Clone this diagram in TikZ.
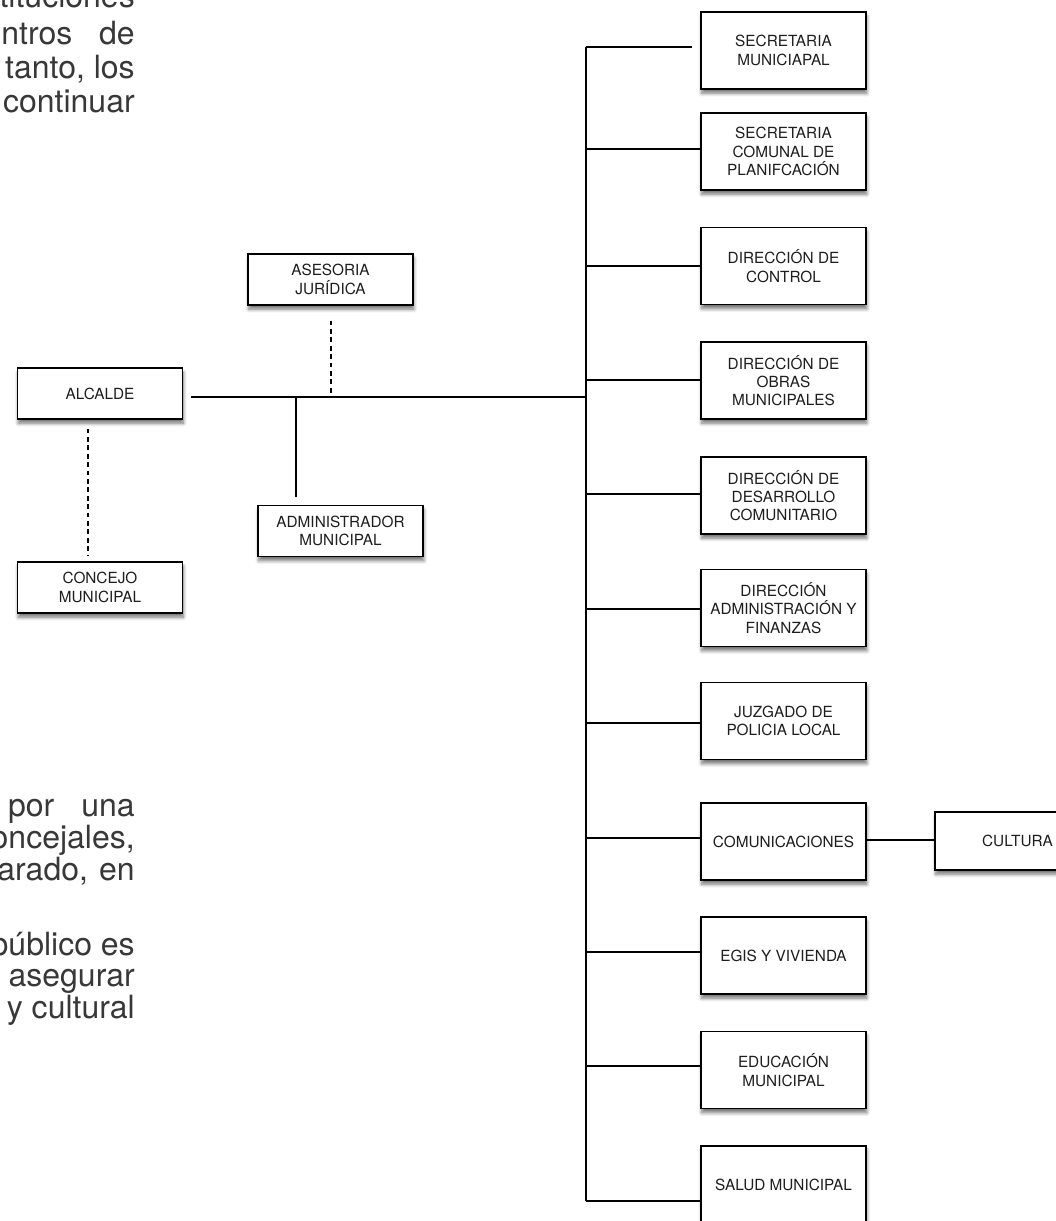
\documentclass[tikz,border=0pt]{standalone}
\usepackage{fontspec}
\setmainfont{TeX Gyre Heros}
\usetikzlibrary{shadows.blur,calc}
\definecolor{bodytext}{HTML}{383838}
\definecolor{boxtext}{HTML}{1E1E1E}
\begin{document}
\begin{tikzpicture}[x=0.75pt,y=-0.75pt,
  orgbox/.style={draw=black, line width=0.95pt, fill=white, text=boxtext,
    minimum width=123.75pt, minimum height=57.75pt, align=center, inner sep=1pt,
    font=\fontsize{11.5}{13.7}\selectfont,
    blur shadow={shadow xshift=0.6pt, shadow yshift=-3.2pt, shadow blur steps=6,
      shadow blur radius=2.6pt, shadow opacity=55}},
  lowbox/.style={orgbox, minimum height=38.25pt},
  conn/.style={line width=0.95pt, draw=black},
  dashconn/.style={line width=0.95pt, draw=black, dash pattern=on 3.5pt off 2.8pt},
  bodyline/.style={anchor=base east, inner sep=0pt, text=bodytext,
    font=\fontsize{24}{26}\selectfont}
]
\useasboundingbox (0,0) rectangle (1056,1221);

% ---- body text fragments (cut by the page edge)
\node[bodyline] (b1) at (135,7) {instituciones};
\node[bodyline] (b2) at (135,44) {\hbox to 100pt{ntros\hfill de}};
\node[bodyline] (b3) at (135,78) {tanto, los};
\node[bodyline] (b4) at (135,112) {continuar};
\node[bodyline] (b5) at (135,816) {\hbox to 95pt{por\hfill una}};
\node[bodyline] (b6) at (135,848) {oncejales,};
\node[bodyline] (b7) at (135,880) {\hbox to 103pt{arado,\hfill en}};
\node[bodyline] (b8) at (135,955) {público es};
\node[bodyline] (b9) at (135,986) {asegurar};
\node[bodyline] (b10) at (135,1018) {y cultural};

% ---- left part
\node[lowbox] (alc) at (100,393.5) {ALCALDE};
\node[lowbox] (ase) at (330.5,279.5) {ASESORIA\\JURÍDICA};
\node[lowbox] (adm) at (340.5,531) {ADMINISTRADOR\\MUNICIPAL};
\node[lowbox] (con) at (100,587.5) {CONCEJO\\MUNICIPAL};

% ---- right column
\node[orgbox] (s1) at (783.5,50.5) {SECRETARIA\\MUNICIAPAL};
\node[orgbox] (s2) at (783.5,151.5) {SECRETARIA\\COMUNAL DE\\PLANIFCACIÓN};
\node[orgbox] (s3) at (783.5,266) {DIRECCIÓN DE\\CONTROL};
\node[orgbox] (s4) at (783.5,380.5) {DIRECCIÓN DE\\OBRAS\\MUNICIPALES};
\node[orgbox] (s5) at (783.5,495.5) {DIRECCIÓN DE\\DESARROLLO\\COMUNITARIO};
\node[orgbox] (s6) at (783.5,608) {DIRECCIÓN\\ADMINISTRACIÓN Y\\FINANZAS};
\node[orgbox] (s7) at (783.5,721) {JUZGADO DE\\POLICIA LOCAL};
\node[orgbox] (s8) at (783.5,841.5) {COMUNICACIONES};
\node[orgbox] (s9) at (783.5,955.5) {EGIS Y VIVIENDA};
\node[orgbox] (s10) at (783.5,1070) {EDUCACIÓN\\MUNICIPAL};
\node[orgbox] (s11) at (783.5,1184.5) {SALUD MUNICIPAL};
\node[orgbox, minimum height=43.5pt] (cul) at (1017.5,841) {CULTURA};

% ---- trunk and branches
\coordinate (t1) at (586,47);
\coordinate (t2) at (586,149);
\coordinate (t3) at (586,266);
\coordinate (t4) at (586,380);
\coordinate (t5) at (586,494);
\coordinate (t6) at (586,609);
\coordinate (t7) at (586,723);
\coordinate (t8) at (586,838);
\coordinate (t9) at (586,952);
\coordinate (t10) at (586,1066);
\coordinate (t11) at (586,1201);
\coordinate (hr) at (586,397);

\draw[conn] (t1) -- (t11);
\draw[conn] (t1) -- ($(t1 -| s1.west)+(-8,0)$);
\foreach \i in {2,...,11} {
  \draw[conn] (t\i) -- (t\i -| s\i.west);
}

% ---- alcalde line
\coordinate (ae) at ($(alc.east)+(8,0)$);
\draw[conn] (ae |- hr) -- (hr);
\coordinate (aj) at (296,397);
\draw[conn] (aj) -- ($(aj |- adm.north)+(0,-8)$);
\draw[dashconn] ($(ase.south)+(0.5,15)$) -- ($(ase.south |- hr)+(0.5,-4)$);
\draw[dashconn] ($(alc.south)+(-12,9)$) -- ($(con.north)+(-12,-6)$);

% ---- comunicaciones to cultura
\draw[conn] ($(s8.east)+(0,-1.5)$) -- ($(cul.west)+(0,-1)$);
\end{tikzpicture}
\end{document}
